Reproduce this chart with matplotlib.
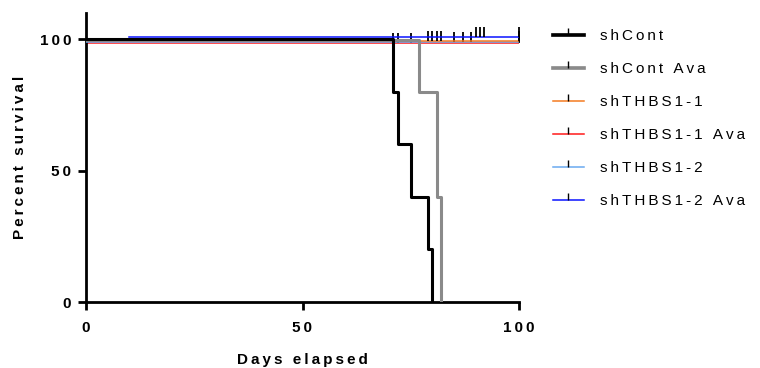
"""Kaplan-Meier survival curves, shCont vs shTHBS1"""
import matplotlib.pyplot as plt
from matplotlib.lines import Line2D

plt.rcParams['font.family'] = ['Liberation Sans', 'DejaVu Sans']

# survival curves (time in days, percent survival)
labels = ['shCont', 'shCont Ava', 'shTHBS1-1', 'shTHBS1-1 Ava', 'shTHBS1-2', 'shTHBS1-2 Ava']
times = [
    [0, 71, 72, 75, 79, 80],
    [0, 77, 81, 82],
    [0, 100],
    [0, 100],
    [0, 100],
    [10, 100],
]
surv = [
    [100, 80, 60, 40, 20, 0],
    [100, 80, 40, 0],
    [100, 100],
    [100, 100],
    [100, 100],
    [100, 100],
]
# censored times (tick marks)
censored = [
    [],
    [],
    [79, 80, 81, 82, 100],
    [71, 72, 75, 100],
    [85, 87, 89, 100],
    [90, 91, 92, 100],
]
xticks = [0, 50, 100]
yticks = [0, 50, 100]

colors = ['black', '#8a8a8a', '#f47b20', '#ff1a1a', '#6aaaf0', '#0a14ff']
widths = [2.2, 2.2, 1.1, 1.1, 1.1, 1.1]
# tiny vertical nudge so the overlapping 100% lines stay visible
nudge = [0.0, -0.2, -0.5, -1.4, -0.9, 1.0]
order = [3, 4, 2, 5, 1, 0]


def spaced(s):
    # Prism-style letter tracking
    return '\u2009'.join(s)


fig = plt.figure(figsize=(7.6, 3.68), dpi=100)
ax = fig.add_axes([86 / 760, 66 / 368, 433 / 760, 289 / 368])

for i in order:
    t = times[i]
    s = [v + nudge[i] for v in surv[i]]
    ax.step(t, s, where='post', color=colors[i], lw=widths[i], zorder=2 + order.index(i))
    if censored[i]:
        cy = []
        for c in censored[i]:
            k = max(j for j in range(len(t)) if t[j] <= c)
            cy.append(s[k])
        ax.plot(censored[i], cy, ls='none', marker=2, ms=7, mew=1.3, mec='black',
                zorder=2 + order.index(i))

ax.set_xlim(0, 100)
ax.set_ylim(0, 110)
ax.set_xticks(xticks)
ax.set_yticks(yticks)
ax.set_xticklabels([spaced(str(v)) for v in xticks], fontweight='bold', fontsize=11)
ax.set_yticklabels([spaced(str(v)) for v in yticks], fontweight='bold', fontsize=11)
for side in ['top', 'right']:
    ax.spines[side].set_visible(False)
for side in ['left', 'bottom']:
    ax.spines[side].set_linewidth(2)
ax.tick_params(width=2, length=5.8)
ax.tick_params(axis='y', pad=5)
ax.tick_params(axis='x', pad=8)
ax.set_xlabel(spaced('Days elapsed'), fontsize=11, fontweight='bold', labelpad=13)
ax.set_ylabel(spaced('Percent survival'), fontsize=11, fontweight='bold', labelpad=9)

handles = [Line2D([], [], color=colors[i], lw=widths[i] * 1.2 if i < 2 else widths[i],
                  marker=2, ms=5, mew=1.0, mec='black') for i in range(6)]
fig.legend(handles, [spaced(l) for l in labels], loc='upper left',
           bbox_to_anchor=(553 / 760, 1 - 29 / 368),
           frameon=False, fontsize=11, handlelength=2.0, handletextpad=1.1,
           labelspacing=1.25, borderpad=0, borderaxespad=0, numpoints=1)

fig.savefig('out.png', dpi=100)
